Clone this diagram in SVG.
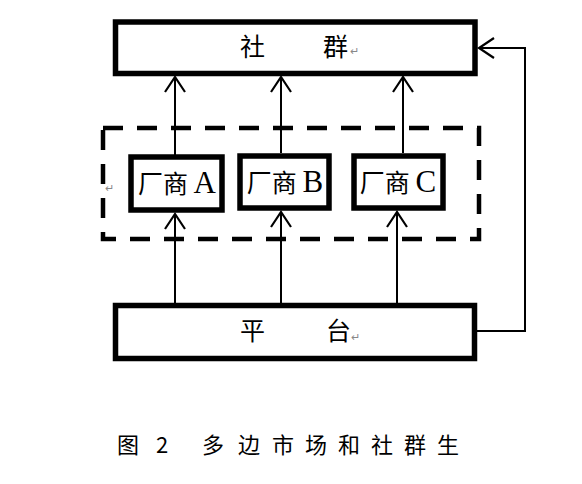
<svg xmlns="http://www.w3.org/2000/svg" width="582" height="484" viewBox="0 0 582 484">
<style>
.box{fill:#fff;stroke:#000;stroke-width:5.5}
.cjk{font-family:"Noto Sans CJK SC","Liberation Serif",serif;fill:#000}
.lat{font-family:"Liberation Serif",serif}
.mark{font-family:"Liberation Sans",sans-serif;font-size:11px;fill:#888}
.conn{fill:none;stroke:#000;stroke-width:2}
</style>
<defs>
<marker id="arr" markerUnits="userSpaceOnUse" markerWidth="30" markerHeight="30" viewBox="-20 -15 30 30" refX="0" refY="0" orient="auto">
<path d="M -15 -10 L 0 0 L -15 10" fill="none" stroke="#000" stroke-width="2.2"/>
</marker>
</defs>
<rect width="582" height="484" fill="#fff"/>
<g id="group-dashed">
<rect x="103" y="128" width="376" height="111" fill="none" stroke="#000" stroke-width="4.5" stroke-dasharray="20 14"/>
<text class="mark" x="105" y="192">↵</text>
</g>
<g id="node-community">
<rect class="box" x="115.5" y="22" width="359.5" height="51.5"/>
<text class="cjk" font-size="25" x="240" y="56">社</text>
<text class="cjk" font-size="25" x="323" y="56">群</text>
<text class="mark" x="350" y="55">↵</text>
</g>
<g id="node-vendorA">
<rect class="box" x="131" y="157" width="91" height="53"/>
<text class="cjk" font-size="25" x="177" y="193" text-anchor="middle">厂商 <tspan class="lat" font-size="31">A</tspan></text>
</g>
<g id="node-vendorB">
<rect class="box" x="240" y="156" width="89" height="52"/>
<text class="cjk" font-size="25" x="285" y="192" text-anchor="middle">厂商 <tspan class="lat" font-size="31">B</tspan></text>
</g>
<g id="node-vendorC">
<rect class="box" x="354" y="156" width="89" height="52"/>
<text class="cjk" font-size="25" x="398" y="192" text-anchor="middle">厂商 <tspan class="lat" font-size="31">C</tspan></text>
</g>
<g id="node-platform">
<rect class="box" x="115.5" y="305.5" width="359" height="53"/>
<text class="cjk" font-size="25" x="240" y="340">平</text>
<text class="cjk" font-size="25" x="326" y="340">台</text>
<text class="mark" x="351" y="341">↵</text>
</g>
<g id="connectors">
<path class="conn" d="M175 155 V77" marker-end="url(#arr)"/>
<path class="conn" d="M281 153 V77" marker-end="url(#arr)"/>
<path class="conn" d="M403 153 V77" marker-end="url(#arr)"/>
<path class="conn" d="M175 308 V214" marker-end="url(#arr)"/>
<path class="conn" d="M281 303 V212" marker-end="url(#arr)"/>
<path class="conn" d="M397 303 V212" marker-end="url(#arr)"/>
<path class="conn" d="M477 331 H525 V48 H479" marker-end="url(#arr)"/>
</g>
<g id="caption" class="cjk" font-size="22">
<text x="117" y="453">图</text>
<text x="156" y="453">2</text>
<text x="202" y="453">多</text>
<text x="238" y="453">边</text>
<text x="272" y="453">市</text>
<text x="305" y="453">场</text>
<text x="338" y="453">和</text>
<text x="371" y="453">社</text>
<text x="404" y="453">群</text>
<text x="437" y="453">生</text>
</g>
</svg>
